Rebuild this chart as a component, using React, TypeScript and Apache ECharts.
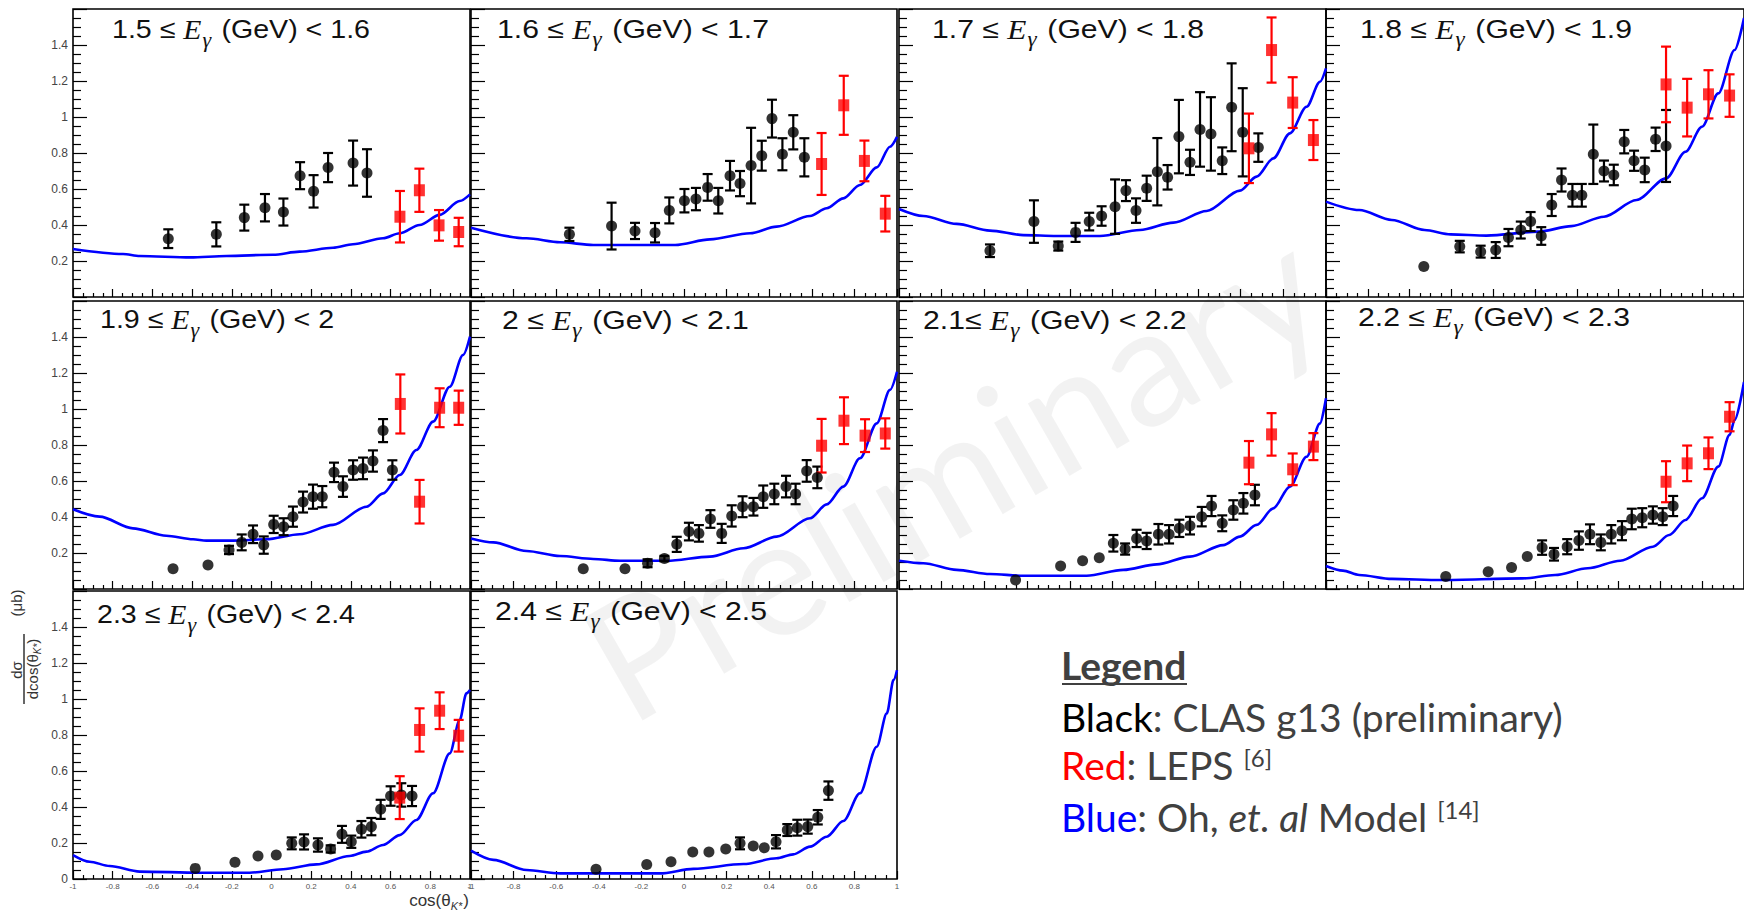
import React, { useEffect, useRef } from 'react';
import * as echarts from 'echarts';

// Energy bins (GeV)
const binLow = ['1.5', '1.6', '1.7', '1.8', '1.9', '2', '2.1', '2.2', '2.3', '2.4'];
const binHigh = ['1.6', '1.7', '1.8', '1.9', '2', '2.1', '2.2', '2.3', '2.4', '2.5'];
const binSep = [' ', ' ', ' ', ' ', ' ', ' ', '', ' ', ' ', ' '];

// y tick labels
const yTickLabels = ['0', '0.2', '0.4', '0.6', '0.8', '1', '1.2', '1.4'];

// CLAS g13 (preliminary): [cos, dsigma/dcos, error]
const clas1 = [[-0.52, 0.324, 0.052], [-0.278, 0.348, 0.067], [-0.137, 0.441, 0.072], [-0.033, 0.496, 0.076], [0.06, 0.472, 0.075], [0.144, 0.674, 0.075], [0.212, 0.587, 0.09], [0.285, 0.719, 0.081], [0.411, 0.744, 0.125], [0.481, 0.689, 0.132]];
const clas2 = [[-0.538, 0.348, 0.037], [-0.34, 0.394, 0.13], [-0.23, 0.367, 0.045], [-0.136, 0.357, 0.054], [-0.069, 0.481, 0.072], [0.002, 0.535, 0.065], [0.056, 0.544, 0.062], [0.111, 0.609, 0.074], [0.161, 0.535, 0.071], [0.216, 0.674, 0.082], [0.263, 0.63, 0.07], [0.315, 0.73, 0.21], [0.365, 0.785, 0.083], [0.413, 0.991, 0.105], [0.462, 0.793, 0.089], [0.513, 0.915, 0.095], [0.565, 0.776, 0.106]];
const clas3 = [[-0.574, 0.257, 0.035], [-0.368, 0.419, 0.118], [-0.254, 0.283, 0.025], [-0.173, 0.359, 0.053], [-0.109, 0.419, 0.049], [-0.051, 0.45, 0.054], [0.012, 0.502, 0.151], [0.063, 0.591, 0.058], [0.11, 0.48, 0.068], [0.16, 0.604, 0.07], [0.21, 0.696, 0.187], [0.258, 0.665, 0.068], [0.311, 0.891, 0.204], [0.363, 0.748, 0.07], [0.41, 0.931, 0.207], [0.461, 0.906, 0.204], [0.514, 0.757, 0.074], [0.558, 1.054, 0.244], [0.61, 0.915, 0.245], [0.683, 0.83, 0.079]];
const clas4 = [[-0.532, 0.169, 0], [-0.36, 0.28, 0.032], [-0.26, 0.252, 0.033], [-0.188, 0.261, 0.044], [-0.127, 0.33, 0.048], [-0.068, 0.372, 0.047], [-0.021, 0.419, 0.053], [0.03, 0.339, 0.049], [0.08, 0.511, 0.061], [0.127, 0.65, 0.064], [0.179, 0.565, 0.063], [0.224, 0.565, 0.063], [0.279, 0.793, 0.165], [0.33, 0.7, 0.058], [0.377, 0.678, 0.057], [0.427, 0.863, 0.065], [0.474, 0.757, 0.056], [0.525, 0.706, 0.068], [0.577, 0.876, 0.065], [0.627, 0.839, 0.2]];
const clas5 = [[-0.496, 0.113, 0], [-0.32, 0.133, 0], [-0.214, 0.217, 0.023], [-0.15, 0.259, 0.044], [-0.093, 0.304, 0.049], [-0.039, 0.244, 0.048], [0.011, 0.359, 0.048], [0.061, 0.346, 0.047], [0.108, 0.402, 0.056], [0.159, 0.483, 0.058], [0.209, 0.513, 0.067], [0.256, 0.513, 0.059], [0.315, 0.648, 0.054], [0.36, 0.569, 0.057], [0.411, 0.661, 0.054], [0.461, 0.67, 0.06], [0.511, 0.711, 0.059], [0.562, 0.88, 0.064], [0.609, 0.661, 0.054]];
const clas6 = [[-0.473, 0.113, 0], [-0.277, 0.113, 0], [-0.171, 0.143, 0.022], [-0.092, 0.169, 0.015], [-0.034, 0.248, 0.042], [0.023, 0.319, 0.049], [0.07, 0.309, 0.046], [0.124, 0.389, 0.049], [0.177, 0.309, 0.053], [0.224, 0.406, 0.059], [0.275, 0.457, 0.058], [0.326, 0.457, 0.049], [0.372, 0.513, 0.062], [0.424, 0.528, 0.057], [0.479, 0.569, 0.06], [0.524, 0.528, 0.057], [0.576, 0.656, 0.06], [0.626, 0.62, 0.06]];
const clas7 = [[-0.454, 0.05, 0], [-0.243, 0.128, 0], [-0.14, 0.157, 0], [-0.062, 0.174, 0], [0.004, 0.254, 0.046], [0.059, 0.222, 0.031], [0.113, 0.281, 0.048], [0.16, 0.267, 0.045], [0.215, 0.304, 0.057], [0.265, 0.304, 0.051], [0.313, 0.337, 0.048], [0.363, 0.352, 0.049], [0.418, 0.402, 0.054], [0.464, 0.461, 0.056], [0.514, 0.365, 0.044], [0.566, 0.439, 0.054], [0.613, 0.476, 0.057], [0.667, 0.522, 0.057]];
const clas8 = [[-0.427, 0.069, 0], [-0.224, 0.096, 0], [-0.112, 0.12, 0], [-0.037, 0.18, 0], [0.034, 0.23, 0.04], [0.091, 0.193, 0.035], [0.154, 0.235, 0.042], [0.21, 0.269, 0.051], [0.263, 0.304, 0.055], [0.315, 0.259, 0.044], [0.365, 0.304, 0.051], [0.416, 0.324, 0.053], [0.463, 0.389, 0.057], [0.513, 0.396, 0.053], [0.564, 0.411, 0.048], [0.611, 0.402, 0.047], [0.661, 0.461, 0.056]];
const clas9 = [[-0.384, 0.059, 0], [-0.184, 0.093, 0], [-0.068, 0.128, 0], [0.024, 0.133, 0], [0.102, 0.198, 0.033], [0.164, 0.206, 0.042], [0.234, 0.189, 0.037], [0.298, 0.167, 0.02], [0.355, 0.248, 0.047], [0.402, 0.207, 0.034], [0.453, 0.276, 0.046], [0.503, 0.291, 0.048], [0.55, 0.387, 0.053], [0.6, 0.461, 0.054], [0.654, 0.467, 0.065], [0.708, 0.461, 0.056]];
const clas10 = [[-0.413, 0.054, 0], [-0.175, 0.081, 0], [-0.061, 0.096, 0], [0.041, 0.15, 0], [0.117, 0.15, 0], [0.196, 0.167, 0], [0.263, 0.198, 0.033], [0.325, 0.183, 0], [0.377, 0.174, 0], [0.432, 0.207, 0.037], [0.485, 0.272, 0.033], [0.532, 0.285, 0.044], [0.581, 0.291, 0.039], [0.628, 0.343, 0.04], [0.678, 0.491, 0.051]];

// LEPS: [cos, dsigma/dcos, error]
const leps1 = [[0.647, 0.446, 0.143], [0.745, 0.593, 0.12], [0.844, 0.398, 0.085], [0.943, 0.361, 0.079]];
const leps2 = [[0.646, 0.739, 0.172], [0.75, 1.065, 0.164], [0.847, 0.756, 0.113], [0.945, 0.463, 0.099]];
const leps3 = [[0.639, 0.826, 0.193], [0.745, 1.372, 0.181], [0.844, 1.08, 0.141], [0.941, 0.872, 0.111]];
const leps4 = [[0.627, 1.181, 0.21], [0.728, 1.052, 0.16], [0.83, 1.126, 0.134], [0.931, 1.119, 0.118]];
const leps5 = [[0.649, 1.028, 0.164], [0.746, 0.485, 0.121], [0.847, 1.007, 0.108], [0.943, 1.007, 0.095]];
const leps6 = [[0.646, 0.796, 0.149], [0.751, 0.935, 0.13], [0.85, 0.852, 0.091], [0.945, 0.864, 0.084]];
const leps7 = [[0.639, 0.702, 0.12], [0.745, 0.859, 0.118], [0.844, 0.665, 0.088], [0.941, 0.791, 0.075]];
const leps8 = [[0.627, 0.596, 0.114], [0.728, 0.698, 0.099], [0.83, 0.754, 0.088], [0.931, 0.957, 0.081]];
const leps9 = [[0.646, 0.452, 0.119], [0.746, 0.828, 0.12], [0.847, 0.935, 0.102], [0.943, 0.796, 0.088]];
const leps10: number[][] = [];

// Oh et al. model curves: [cos, dsigma/dcos]
const model1 = [[-1, 0.267], [-0.748, 0.239], [-0.664, 0.228], [-0.409, 0.22], [-0.227, 0.228], [0.008, 0.235], [0.142, 0.252], [0.31, 0.274], [0.41, 0.293], [0.562, 0.326], [0.646, 0.354], [0.746, 0.4], [0.847, 0.456], [0.948, 0.533], [1, 0.57]];
const model2 = [[-1, 0.385], [-0.739, 0.326], [-0.582, 0.304], [-0.426, 0.289], [-0.042, 0.289], [0.122, 0.32], [0.31, 0.354], [0.435, 0.391], [0.592, 0.45], [0.67, 0.493], [0.748, 0.548], [0.826, 0.622], [0.905, 0.72], [0.967, 0.835], [1, 0.89]];
const model3 = [[-1, 0.489], [-0.886, 0.45], [-0.73, 0.406], [-0.574, 0.369], [-0.418, 0.344], [-0.262, 0.339], [-0.059, 0.339], [0.129, 0.372], [0.285, 0.413], [0.441, 0.478], [0.597, 0.591], [0.675, 0.669], [0.753, 0.77], [0.831, 0.909], [0.909, 1.057], [0.972, 1.196], [1, 1.27]];
const model4 = [[-1, 0.53], [-0.841, 0.483], [-0.685, 0.428], [-0.528, 0.372], [-0.404, 0.348], [-0.232, 0.341], [0.018, 0.363], [0.174, 0.394], [0.33, 0.446], [0.486, 0.539], [0.627, 0.659], [0.72, 0.807], [0.799, 0.946], [0.877, 1.131], [0.955, 1.372], [1, 1.55]];
const model5 = [[-1, 0.443], [-0.866, 0.402], [-0.698, 0.337], [-0.53, 0.296], [-0.395, 0.276], [-0.328, 0.269], [-0.194, 0.269], [-0.026, 0.276], [0.142, 0.304], [0.31, 0.356], [0.478, 0.457], [0.562, 0.531], [0.646, 0.633], [0.73, 0.772], [0.814, 0.93], [0.898, 1.124], [0.965, 1.3], [1, 1.402]];
const model6 = [[-1, 0.281], [-0.895, 0.259], [-0.739, 0.211], [-0.582, 0.183], [-0.426, 0.167], [-0.3, 0.157], [-0.081, 0.157], [0.122, 0.18], [0.279, 0.226], [0.435, 0.291], [0.592, 0.393], [0.67, 0.47], [0.748, 0.569], [0.826, 0.726], [0.905, 0.92], [0.967, 1.106], [1, 1.207]];
const model7 = [[-1, 0.157], [-0.886, 0.143], [-0.73, 0.106], [-0.574, 0.083], [-0.418, 0.074], [-0.121, 0.074], [0.051, 0.106], [0.207, 0.137], [0.363, 0.18], [0.519, 0.244], [0.597, 0.291], [0.675, 0.356], [0.753, 0.448], [0.831, 0.569], [0.909, 0.735], [0.972, 0.92], [1, 1.06]];
const model8 = [[-1, 0.128], [-0.919, 0.102], [-0.841, 0.078], [-0.685, 0.056], [-0.45, 0.05], [-0.06, 0.059], [0.096, 0.078], [0.252, 0.115], [0.408, 0.157], [0.564, 0.235], [0.642, 0.3], [0.72, 0.383], [0.799, 0.504], [0.877, 0.68], [0.931, 0.856], [0.955, 0.939], [1, 1.15]];
const model9 = [[-1, 0.133], [-0.916, 0.096], [-0.815, 0.072], [-0.664, 0.041], [-0.362, 0.035], [-0.11, 0.035], [0.058, 0.054], [0.226, 0.081], [0.394, 0.128], [0.478, 0.152], [0.562, 0.189], [0.646, 0.244], [0.73, 0.328], [0.814, 0.476], [0.898, 0.698], [0.948, 0.883], [0.982, 1.031], [1, 1.05]];
const model10 = [[-1, 0.157], [-0.895, 0.106], [-0.739, 0.05], [-0.582, 0.031], [-0.113, 0.031], [0.044, 0.056], [0.279, 0.083], [0.435, 0.115], [0.513, 0.137], [0.592, 0.18], [0.67, 0.235], [0.748, 0.322], [0.826, 0.476], [0.905, 0.735], [0.952, 0.92], [0.984, 1.106], [1, 1.16]];

const clasSets = [clas1, clas2, clas3, clas4, clas5, clas6, clas7, clas8, clas9, clas10];
const lepsSets = [leps1, leps2, leps3, leps4, leps5, leps6, leps7, leps8, leps9, leps10];
const modelSets = [model1, model2, model3, model4, model5, model6, model7, model8, model9, model10];

// layout (pixels)
const colLeft = [73, 471, 899, 1326];
const colWidth = [397, 426, 427, 427];
const colTextScale = [1.1, 1.16, 1.16, 1.16];
const rowTop = [9, 301, 591];
const panelH = 288;
const titlePos = [[112, 16], [497, 16], [932, 16], [1360, 16], [100, 306], [502, 307], [923, 307], [1358, 304], [97, 601], [495, 598]];

function errSeries(i: number, data: number[][], color: string) {
  return {
    type: 'custom',
    xAxisIndex: i,
    yAxisIndex: i,
    data,
    z: 3,
    silent: true,
    encode: { x: 0, y: 1 },
    renderItem: (_params: any, api: any) => {
      const x = api.value(0);
      const y = api.value(1);
      const e = api.value(2);
      if (!e) return { type: 'group', children: [] };
      const t = api.coord([x, y + e]);
      const b = api.coord([x, y - e]);
      const s = { stroke: color, lineWidth: 2.2 };
      return {
        type: 'group',
        children: [
          { type: 'line', shape: { x1: t[0], y1: t[1], x2: b[0], y2: b[1] }, style: s },
          { type: 'line', shape: { x1: t[0] - 5, y1: t[1], x2: t[0] + 5, y2: t[1] }, style: s },
          { type: 'line', shape: { x1: b[0] - 5, y1: b[1], x2: b[0] + 5, y2: b[1] }, style: s },
        ],
      };
    },
  };
}

function buildOption() {
  const grid: any[] = [];
  const xAxis: any[] = [];
  const yAxis: any[] = [];
  const series: any[] = [];
  const title: any[] = [];
  const graphic: any[] = [];

  const titleRich = {
    a: { fontSize: 26, fontFamily: 'Liberation Sans, Arial', fontWeight: 'normal', fill: '#111', lineHeight: 30, verticalAlign: 'top' },
    e: { fontSize: 27, fontFamily: 'Liberation Serif', fontStyle: 'italic', fontWeight: 'normal', fill: '#111', lineHeight: 30, verticalAlign: 'top' },
    g: { fontSize: 20, fontFamily: 'Liberation Serif', fontStyle: 'italic', fontWeight: 'normal', fill: '#111', lineHeight: 20, padding: [14, 2, 0, 1], verticalAlign: 'top' },
  };

  for (let i = 0; i < 10; i++) {
    const r = Math.floor(i / 4);
    const c = i % 4;
    grid.push({
      left: colLeft[c], top: rowTop[r], width: colWidth[c], height: panelH,
      show: true, borderColor: '#000', borderWidth: 1.6, backgroundColor: 'transparent', containLabel: false,
    });
    xAxis.push({
      gridIndex: i, type: 'value', min: -1, max: 1, interval: 0.2,
      axisLine: { show: false, onZero: false },
      axisTick: { show: true, inside: true, length: 8, lineStyle: { color: '#000', width: 1.2 } },
      minorTick: { show: true, splitNumber: 4, length: 4, lineStyle: { color: '#000', width: 1.2 } },
      splitLine: { show: false },
      axisLabel: {
        show: r === 2, fontSize: 8, color: '#555', margin: 3, fontFamily: 'Liberation Sans',
        showMinLabel: true, showMaxLabel: true,
        formatter: (v: number) => String(Math.round(v * 10) / 10),
      },
    });
    yAxis.push({
      gridIndex: i, type: 'value', min: 0, max: 1.6, interval: 0.2,
      axisLine: { show: false, onZero: false },
      axisTick: { show: true, inside: true, length: 14, lineStyle: { color: '#000', width: 1.2 } },
      minorTick: { show: true, splitNumber: 4, length: 8, lineStyle: { color: '#000', width: 1.2 } },
      splitLine: { show: false },
      axisLabel: {
        show: c === 0, fontSize: 12, color: '#444', margin: 5, fontFamily: 'Liberation Sans',
        showMinLabel: true, showMaxLabel: true,
        formatter: (v: number) => {
          const k = Math.round(v / 0.2);
          if (k >= 8) return '';
          if (k === 0 && r !== 2) return '';
          return yTickLabels[k];
        },
      },
    });

    series.push({
      type: 'line', xAxisIndex: i, yAxisIndex: i, data: modelSets[i], showSymbol: false,
      smooth: 0.3, smoothMonotone: 'x', clip: true, silent: true, z: 2,
      lineStyle: { color: '#0000ff', width: 2.6 },
    });
    series.push(errSeries(i, clasSets[i], '#000'));
    series.push({
      type: 'scatter', xAxisIndex: i, yAxisIndex: i, data: clasSets[i].map((d) => [d[0], d[1]]),
      symbol: 'circle', symbolSize: 11, itemStyle: { color: '#000' }, z: 4, silent: true,
    });
    if (lepsSets[i].length) {
      series.push(errSeries(i, lepsSets[i], '#ff0000'));
      series.push({
        type: 'scatter', xAxisIndex: i, yAxisIndex: i, data: lepsSets[i].map((d) => [d[0], d[1]]),
        symbol: 'rect', symbolSize: [11, 12], itemStyle: { color: '#ff0000' }, z: 5, silent: true,
      });
    }

    graphic.push({
      type: 'text', x: titlePos[i][0], y: titlePos[i][1], scaleX: colTextScale[c], silent: true, z: 10,
      style: {
        text: `{a|${binLow[i]}${binSep[i]}≤ }{e|E}{g|γ}{a| (GeV) < ${binHigh[i]}}`,
        align: 'left', verticalAlign: 'top', rich: titleRich,
      },
    });
  }

  // legend block
  const lg = { fontSize: 39, fontFamily: 'Lato', fontWeight: 'normal', color: '#404040', lineHeight: 46 };
  const sup = { fontSize: 24, fontFamily: 'Lato', fontWeight: 'normal', color: '#404040', lineHeight: 24, verticalAlign: 'top', padding: [3, 0, 0, 0] };
  title.push({ left: 1061, top: 642, padding: 0, text: '{b|Legend}', textStyle: { fontWeight: 'normal', rich: { b: { ...lg, fontWeight: 'bold' } } } });
  title.push({ left: 1061, top: 694, padding: 0, text: '{k|Black}{g|: CLAS g13 (preliminary)}', textStyle: { fontWeight: 'normal', rich: { k: { ...lg, color: '#000' }, g: lg } } });
  title.push({ left: 1061, top: 742, padding: 0, text: '{k|Red}{g|: LEPS }{s|[6]}', textStyle: { fontWeight: 'normal', rich: { k: { ...lg, color: '#ff0000' }, g: lg, s: sup } } });
  title.push({ left: 1061, top: 794, padding: 0, text: '{k|Blue}{g|: Oh, }{i|et. al}{g| Model }{s|[14]}', textStyle: { fontWeight: 'normal', rich: { k: { ...lg, color: '#0000ff' }, g: lg, i: { ...lg, fontStyle: 'italic' }, s: sup } } });

  // x axis title
  title.push({
    right: 1744 - 469, top: 892, padding: 0,
    text: '{a|cos(θ}{s|K*}{a|)}',
    textStyle: { fontWeight: 'normal', rich: {
      a: { fontSize: 17, fontFamily: 'Liberation Sans', fontWeight: 'normal', color: '#333', lineHeight: 18, verticalAlign: 'top' },
      s: { fontSize: 11, fontFamily: 'Liberation Sans', fontStyle: 'italic', fontWeight: 'normal', color: '#333', lineHeight: 11, padding: [8, 1, 0, 0], verticalAlign: 'top' },
    } },
  });

  graphic.push(
    {
      type: 'text', x: 951, y: 470, rotation: 0.52, z: 1, silent: true,
      style: { text: 'Preliminary', fontSize: 165, fontFamily: 'Lato', fill: 'rgba(0,0,0,0.05)', align: 'center', verticalAlign: 'middle' },
    },
    {
      type: 'line', silent: true, z: 10,
      shape: { x1: 1062, y1: 684, x2: 1187, y2: 684 }, style: { stroke: '#404040', lineWidth: 2.2 },
    },
    {
      type: 'text', x: 16, y: 603, rotation: Math.PI / 2, silent: true, z: 10,
      style: { text: '(μb)', fontSize: 15, fontFamily: 'Liberation Sans', fill: '#333', align: 'center', verticalAlign: 'middle' },
    },
    {
      type: 'text', x: 16, y: 670, rotation: Math.PI / 2, silent: true, z: 10,
      style: { text: 'dσ', fontSize: 15, fontFamily: 'Liberation Sans', fill: '#333', align: 'center', verticalAlign: 'middle' },
    },
    {
      type: 'line', silent: true, z: 10,
      shape: { x1: 24, y1: 634, x2: 24, y2: 704 }, style: { stroke: '#333', lineWidth: 1.5 },
    },
    {
      type: 'text', x: 33, y: 669, rotation: Math.PI / 2, silent: true, z: 10,
      style: {
        text: '{a|dcos(θ}{s|K*}{a|)}', align: 'center', verticalAlign: 'middle',
        rich: {
          a: { fontSize: 15, fontFamily: 'Liberation Sans', fill: '#333', lineHeight: 17, verticalAlign: 'top' },
          s: { fontSize: 10, fontFamily: 'Liberation Sans', fontStyle: 'italic', fill: '#333', lineHeight: 10, padding: [8, 0, 0, 0], verticalAlign: 'top' },
        },
      },
    },
  );

  return { animation: false, backgroundColor: '#fff', grid, xAxis, yAxis, series, title, graphic };
}

export default function App() {
  const ref = useRef<HTMLDivElement>(null);
  useEffect(() => {
    const chart = echarts.init(ref.current as HTMLDivElement, null, { renderer: 'svg' });
    chart.setOption(buildOption() as any);
    return () => chart.dispose();
  }, []);
  return (
    <div
      ref={ref}
      style={{ position: 'absolute', left: 0, top: 0, width: 1744, height: 912, background: '#fff' }}
    />
  );
}
